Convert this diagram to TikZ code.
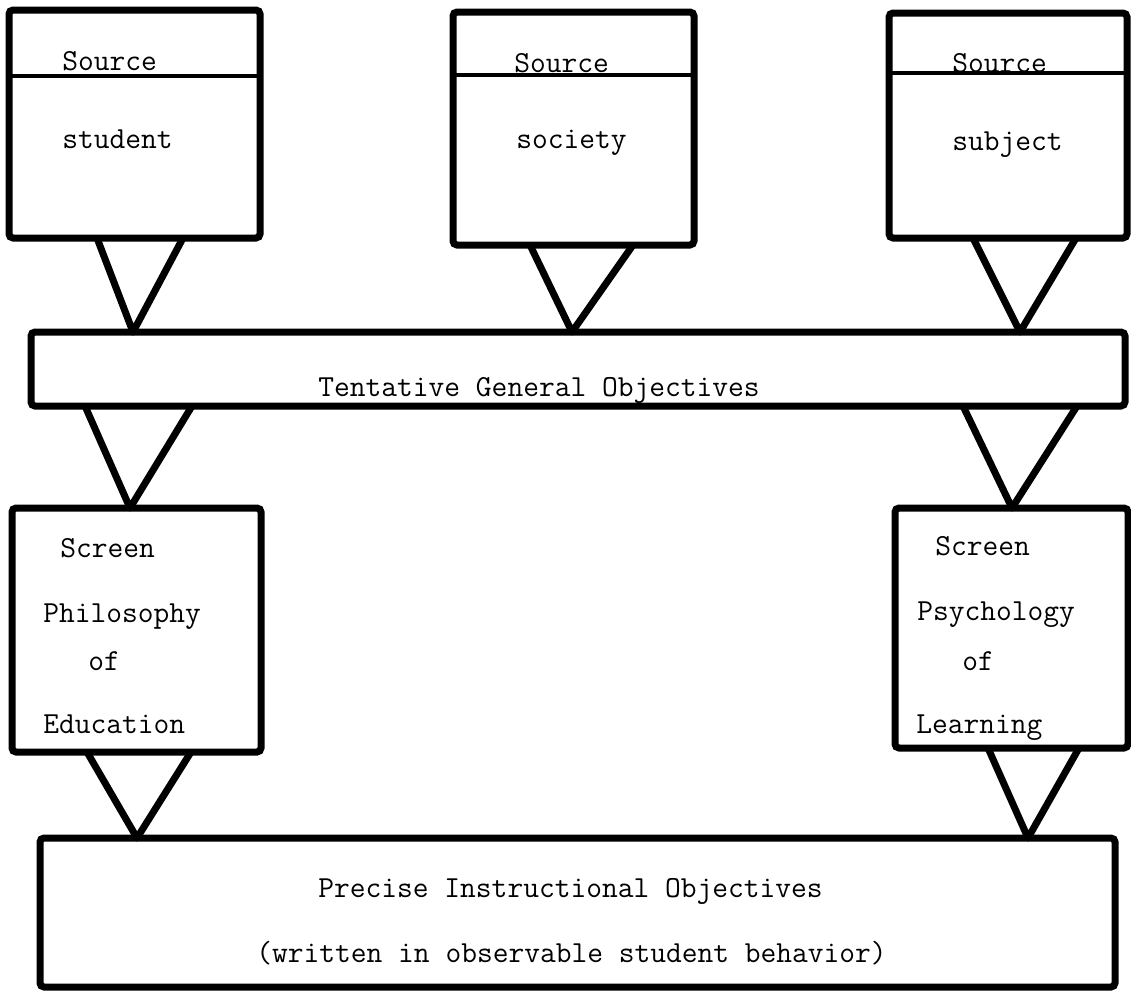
\documentclass[tikz,border=0pt]{standalone}
\usepackage{fontspec}
\usetikzlibrary{calc}
\newlength\px
\setlength\px{0.5pt}
\begin{document}
\begin{tikzpicture}[x=0.5pt,y=-0.5pt,
  box/.style={draw,line width=3.5pt,rounded corners=2pt,inner sep=0pt,outer sep=0pt},
  divider/.style={line width=2pt},
  vee/.style={line width=3.5pt,line join=round},
  lbl/.style={anchor=base west,inner sep=0pt,font=\ttfamily\fontsize{15.3}{18}\selectfont}]
\useasboundingbox (0,0) rectangle (1131,992);
% boxes
\node[box,minimum width=251\px,minimum height=228\px] (student) at (134.5,124) {};
\node[box,minimum width=241\px,minimum height=233\px] (society) at (573.5,128.5) {};
\node[box,minimum width=238\px,minimum height=225\px] (subject) at (1008,125.5) {};
\node[box,minimum width=1094\px,minimum height=74\px] (tent) at (578,369) {};
\node[box,minimum width=249\px,minimum height=244\px] (philo) at (136.5,630) {};
\node[box,minimum width=233\px,minimum height=240\px] (psych) at (1011.5,628) {};
\node[box,minimum width=1075\px,minimum height=149\px] (precise) at (577.5,912.5) {};
% dividers
\draw[divider] ($(student.north west)+(0,66)$) -- ($(student.north east)+(0,66)$);
\draw[divider] ($(society.north west)+(0,63)$) -- ($(society.north east)+(0,63)$);
\draw[divider] ($(subject.north west)+(0,60)$) -- ($(subject.north east)+(0,60)$);
% connectors (V shapes)
\draw[vee] ($(student.south west)+(88,0)$) -- ($(tent.north west)+(102,0)$) -- ($(student.south west)+(174,0)$);
\draw[vee] ($(society.south west)+(77,0)$) -- ($(tent.north west)+(541,0)$) -- ($(society.south west)+(180,0)$);
\draw[vee] ($(subject.south west)+(84,0)$) -- ($(tent.north west)+(989,0)$) -- ($(subject.south west)+(187,0)$);
\draw[vee] ($(tent.south west)+(54,0)$) -- ($(philo.north west)+(118,0)$) -- ($(tent.south west)+(161,0)$);
\draw[vee] ($(tent.south west)+(932,0)$) -- ($(psych.north west)+(117,0)$) -- ($(tent.south west)+(1046,0)$);
\draw[vee] ($(philo.south west)+(75,0)$) -- ($(precise.north west)+(97,0)$) -- ($(philo.south west)+(179,0)$);
\draw[vee] ($(psych.south west)+(93,0)$) -- ($(precise.north west)+(988,0)$) -- ($(psych.south west)+(184,0)$);
% labels
\node[lbl] (s1) at (62,70) {Source};
\node[lbl] (t1) at (62,148) {student};
\node[lbl] (s2) at (514,72) {Source};
\node[lbl] (t2) at (516,148) {society};
\node[lbl] (s3) at (952,72) {Source};
\node[lbl] (t3) at (952,150) {subject};
\node[lbl] (tg) at (318,396) {Tentative General Objectives};
\node[lbl] (pa) at (60,557) {Screen};
\node[lbl] (pb) at (43,622) {Philosophy};
\node[lbl] (pc) at (88,670) {of};
\node[lbl] (pd) at (43,733) {Education};
\node[lbl] (qa) at (935,555) {Screen};
\node[lbl] (qb) at (917,620) {Psychology};
\node[lbl] (qc) at (962,670) {of};
\node[lbl] (qd) at (916,733) {Learning};
\node[lbl] (ra) at (318,897) {Precise Instructional Objectives};
\node[lbl] (rb) at (256,962) {(written in observable student behavior)};
\end{tikzpicture}
\end{document}
